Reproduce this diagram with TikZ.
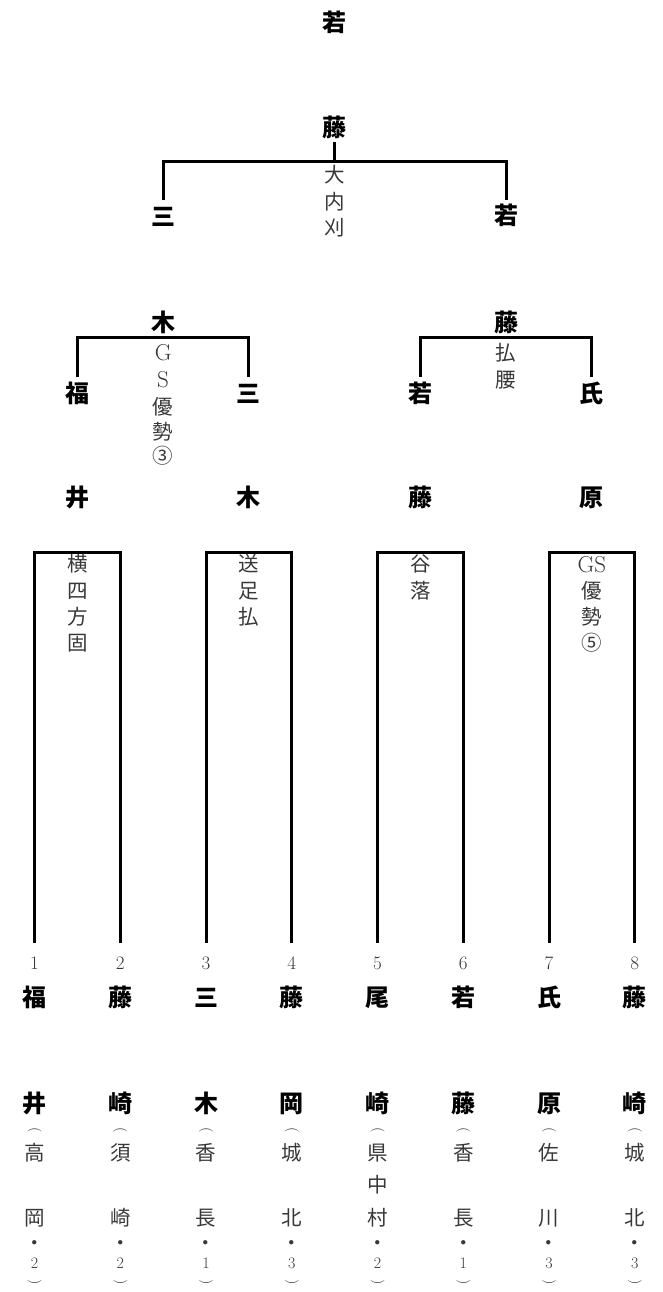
\documentclass[tikz,border=0pt]{standalone}
\usepackage{fontspec}
\newfontfamily\jp{Noto Sans CJK JP}
\definecolor{labgray}{gray}{0.22}
\tikzset{
  nm/.style={font=\jp\bfseries\fontsize{24}{24}\selectfont, inner sep=0pt, text height=21.1pt, text depth=2.9pt},
  lb/.style={font=\jp\fontsize{20.5}{20.5}\selectfont, text=labgray, inner sep=0pt, text height=18pt, text depth=2.5pt},
  lat/.style={font=\fontsize{23}{23}\selectfont, text=labgray, inner sep=0pt},
  no/.style={font=\fontsize{19}{19}\selectfont, text=labgray, inner sep=0pt},
  sm/.style={font=\fontsize{16}{16}\selectfont, text=labgray, inner sep=0pt},
  par/.style={font=\fontsize{14}{14}\selectfont, text=labgray, inner sep=0pt, rotate=-90},
  br/.style={line width=3pt, line join=miter},
}
\begin{document}
\begin{tikzpicture}[x=1pt,y=-1pt]
\useasboundingbox (0,0) rectangle (663,1292);
% ---------- final ----------
\node[nm] (F1) at (334.6,22) {若};
\node[nm] (F2) at (334.6,127) {藤};
\coordinate (Fs) at (334.6,142);
\coordinate (Fj) at (334.6,162);
\coordinate (S1t) at (163.1,200);
\coordinate (S2t) at (506.1,200);
\draw[br] (S1t) |- (Fj) -| (S2t);
\draw[br] (Fj) -- (Fs);
\foreach \t [count=\i] in {大,内,刈}
  \node[lb] (L0-\i) at (334.6,{175+26.5*(\i-1)}) {\t};
% ---------- semifinals ----------
\node[nm] (S1a) at (163.1,216) {三};
\node[nm] (S2a) at (506.1,215) {若};
\node[nm] (Q1w) at (163.1,322) {木};
\node[nm] (Q2w) at (506.1,322) {藤};
\coordinate (Q1j) at (163.1,337);
\coordinate (Q2j) at (506.1,337);
\coordinate (R1t) at (77.4,377);
\coordinate (R2t) at (248.9,377);
\coordinate (R3t) at (420.4,377);
\coordinate (R4t) at (591.9,377);
\draw[br] (R1t) |- (Q1j) -| (R2t);
\draw[br] (R3t) |- (Q2j) -| (R4t);
\node[lat] (L1-1) at (163.1,353) {G};
\node[lat] (L1-2) at (163.1,380) {S};
\node[lb]  (L1-3) at (163.1,407) {優};
\node[lb]  (L1-4) at (163.1,432) {勢};
\node[lb]  (L1-5) at (163.1,456) {③};
\node[lb]  (L2-1) at (506.1,353) {払};
\node[lb]  (L2-2) at (506.1,380) {腰};
% ---------- quarterfinal winners ----------
\foreach \x/\a/\b [count=\i] in {77.4/福/井,248.9/三/木,420.4/若/藤,591.9/氏/原}{
  \node[nm] (Wa\i) at (\x,393) {\a};
  \node[nm] (Wb\i) at (\x,497) {\b};
}
% ---------- first round brackets ----------
\foreach \x [count=\i] in {34.5,120.25,206,291.75,377.5,463.25,549,634.75}
  \coordinate (P\i) at (\x,943);
\foreach \x [count=\i] in {77.4,248.9,420.4,591.9}
  \coordinate (B\i) at (\x,552);
\draw[br] (P1) |- (B1) -| (P2);
\draw[br] (P3) |- (B2) -| (P4);
\draw[br] (P5) |- (B3) -| (P6);
\draw[br] (P7) |- (B4) -| (P8);
\foreach \t [count=\i] in {横,四,方,固}
  \node[lb] (M1-\i) at (77.4,{564+26.3*(\i-1)}) {\t};
\foreach \t [count=\i] in {送,足,払}
  \node[lb] (M2-\i) at (248.9,{564+26.3*(\i-1)}) {\t};
\foreach \t [count=\i] in {谷,落}
  \node[lb] (M3-\i) at (420.4,{564+26.3*(\i-1)}) {\t};
\node[lat] (M4-1) at (591.9,565) {GS};
\node[lb]  (M4-2) at (591.9,590.3) {優};
\node[lb]  (M4-3) at (591.9,616.6) {勢};
\node[lb]  (M4-4) at (591.9,642.9) {⑤};
% ---------- entrants ----------
\foreach \x/\a/\b/\s/\t/\d [count=\i] in {
  34.5/福/井/高/岡/2, 120.25/藤/崎/須/崎/2, 206/三/木/香/長/1, 291.75/藤/岡/城/北/3,
  377.5/尾/崎/県/村/2, 463.25/若/藤/香/長/1, 549/氏/原/佐/川/3, 634.75/藤/崎/城/北/3}{
  \node[no] (N\i) at (\x,963) {\i};
  \node[nm] (Ea\i) at (\x,997) {\a};
  \node[nm] (Eb\i) at (\x,1103) {\b};
  \node[par] (Po\i) at (\x,1130) {(};
  \node[lb] (Sa\i) at (\x,1153) {\s};
  \node[lb] (Sb\i) at (\x,1218) {\t};
  \node[lb] (Dt\i) at (\x,1243) {・};
  \node[sm] (Yr\i) at (\x,1263) {\d};
  \node[par] (Pc\i) at (\x,1282) {)};
}
\node[lb] (Sm5) at (377.5,1185) {中};
\end{tikzpicture}
\end{document}
